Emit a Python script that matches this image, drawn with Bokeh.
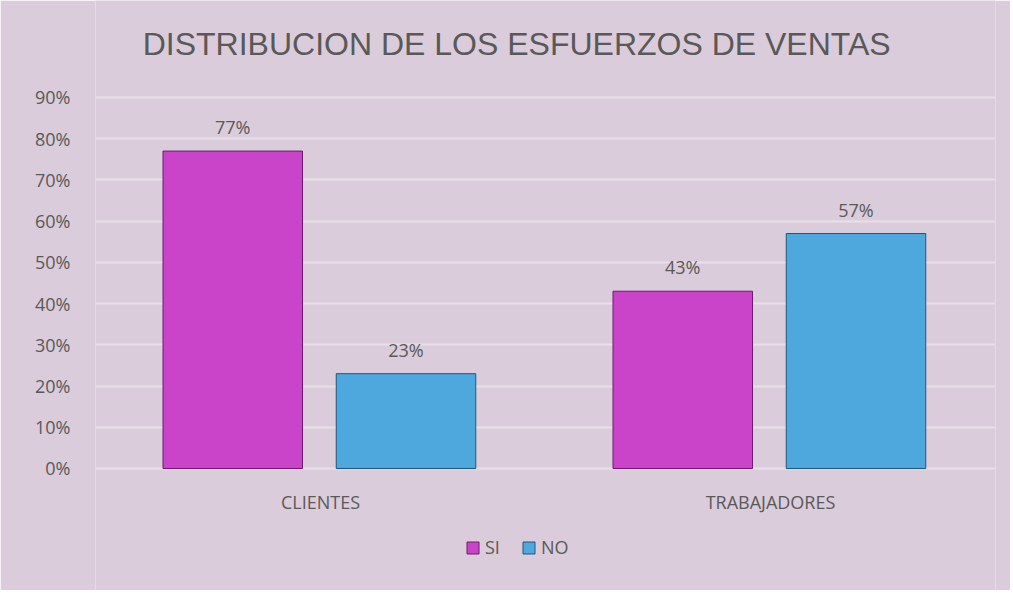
from bokeh.plotting import figure
from bokeh.models import (ColumnDataSource, FactorRange, Range1d, LabelSet, Label, Legend,
                          LegendItem, NumeralTickFormatter, FixedTicker)
from bokeh.core.properties import value
from bokeh.transform import dodge
from bokeh.embed import file_html
from bokeh.resources import INLINE

# ---- data ----
title_text = "DISTRIBUCION DE LOS ESFUERZOS DE VENTAS"
categories = ["CLIENTES", "TRABAJADORES"]
series = ["SI", "NO"]
si_values = [0.77, 0.43]
no_values = [0.23, 0.57]
si_labels = ["77%", "43%"]
no_labels = ["23%", "57%"]
y_ticks = [0.0, 0.1, 0.2, 0.3, 0.4, 0.5, 0.6, 0.7, 0.8, 0.9]

BG = "#DBCCDB"
GRID = "#E8DFE8"
TXT = "#595959"
SI_COLOR = "#C944C9"
NO_COLOR = "#4EA7DD"
FONT = "Open Sans"

src = ColumnDataSource(dict(cat=categories, si=si_values, no=no_values,
                            si_lab=si_labels, no_lab=no_labels,
                            base=[0.0] * len(categories)))

# the frame spans the full height so title and legend can sit inside it
p = figure(width=1010, height=590, x_range=FactorRange(*categories, range_padding=0),
           y_range=Range1d(-0.296, 1.1353), output_backend="svg", toolbar_location=None,
           x_axis_location=None,
           min_border_left=95, min_border_right=15, min_border_top=0, min_border_bottom=0,
           background_fill_color=BG, border_fill_color=BG, outline_line_color=None)

p.add_layout(Label(x=0.936, y=1.0286, text=title_text, text_align="center",
                   text_baseline="middle", text_font="Liberation Sans",
                   text_font_size="32px", text_color=TXT))

r_si = p.vbar(x=dodge("cat", -0.195, range=p.x_range), top="si", width=0.31, source=src,
              fill_color=SI_COLOR, line_color="#6E1A6E", line_width=1)
r_no = p.vbar(x=dodge("cat", 0.19, range=p.x_range), top="no", width=0.31, source=src,
              fill_color=NO_COLOR, line_color="#1E5878", line_width=1)

for key, dx in (("si_lab", -0.195), ("no_lab", 0.19)):
    ycol = "si" if key == "si_lab" else "no"
    p.add_layout(LabelSet(x=dodge("cat", dx, range=p.x_range), y=ycol, text=key, source=src,
                          text_align="center", text_baseline="bottom", y_offset=12,
                          text_font=value(FONT), text_font_size=value("18px"),
                          text_color=value(TXT)))

# category labels under the baseline
p.add_layout(LabelSet(x="cat", y="base", text="cat", source=src, text_align="center",
                      text_baseline="middle", y_offset=-34, text_font=value(FONT),
                      text_font_size=value("18px"), text_color=value(TXT)))

p.yaxis.ticker = FixedTicker(ticks=y_ticks)
p.yaxis.formatter = NumeralTickFormatter(format="0%")
p.yaxis.axis_line_color = None
p.yaxis.major_tick_line_color = None
p.yaxis.minor_tick_line_color = None
p.yaxis.major_label_standoff = 19
p.yaxis.major_label_text_font = FONT
p.yaxis.major_label_text_font_size = "18px"
p.yaxis.major_label_text_color = TXT

p.xgrid.grid_line_color = None
p.ygrid.grid_line_color = GRID
p.ygrid.grid_line_width = 2

legend = Legend(items=[LegendItem(label=series[0], renderers=[r_si]),
                       LegendItem(label=series[1], renderers=[r_no])],
                orientation="horizontal", location=(370, 31),
                background_fill_alpha=0, border_line_color=None,
                label_text_font=FONT, label_text_font_size="18px", label_text_color=TXT,
                glyph_width=15, glyph_height=15, spacing=16, label_standoff=5,
                margin=0, padding=0, label_height=15)
p.add_layout(legend, "center")

open("out.html", "w").write(file_html(p, INLINE))
